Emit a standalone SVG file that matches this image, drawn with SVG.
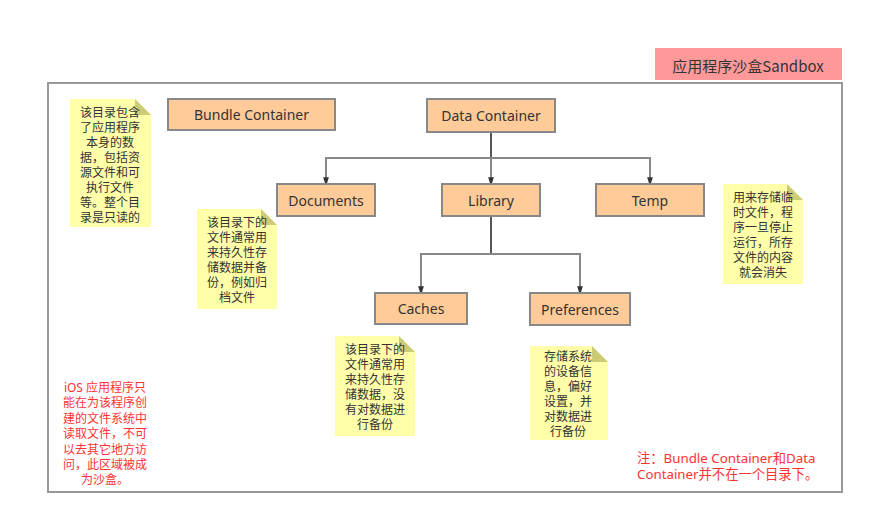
<svg xmlns="http://www.w3.org/2000/svg" width="874" height="524" viewBox="0 0 874 524">
<defs>
<marker id="arr" markerWidth="9" markerHeight="14" refX="9" refY="4.5" orient="auto" markerUnits="userSpaceOnUse" viewBox="0 0 14 9">
<path d="M0,0 L14,4.5 L0,9 Z" fill="#333"/>
</marker>
<style>
.node rect{fill:#FFCC99;stroke:#888;stroke-width:2}
.node text{font-family:"Noto Sans","Noto Sans CJK SC",sans-serif;font-size:14px;fill:#333;text-anchor:middle;dominant-baseline:central}
.note .body{fill:#FFFFAA}
.note .fold{fill:#CCCC77}
.note text{font-family:"Noto Sans CJK SC",sans-serif;font-size:12px;fill:#333;text-anchor:middle;dominant-baseline:central}
.red{font-family:"Noto Sans","Noto Sans CJK SC",sans-serif;font-size:12px;fill:#FF3333}
.red.big{font-size:13.3px}
.conn{fill:none;stroke:#888;stroke-width:2}
.stem{fill:none;stroke:#555;stroke-width:2}
</style>
</defs>
<rect width="874" height="524" fill="#fff"/>
<rect id="frame" x="48" y="83" width="794" height="409" fill="none" stroke="#999" stroke-width="2"/>
<g id="title">
<rect x="655" y="48" width="187" height="32" fill="#FF9999"/>
<text x="748" y="65" font-family="Noto Sans CJK SC,sans-serif" font-size="15" fill="#333" text-anchor="middle" dominant-baseline="central">应用程序沙盒Sandbox</text>
</g>
<g id="connectors">
<path class="stem" d="M491,133 V158"/>
<path class="conn" d="M491,158 H326 V183" marker-end="url(#arr)"/>
<path class="conn" d="M491,158 V183" marker-end="url(#arr)"/>
<path class="conn" d="M491,158 H650 V183" marker-end="url(#arr)"/>
<path class="stem" d="M491,216 V254"/>
<path class="conn" d="M491,254 H421 V292" marker-end="url(#arr)"/>
<path class="conn" d="M491,254 H580 V292" marker-end="url(#arr)"/>
</g>
<g id="bundle" class="node"><rect x="168" y="99" width="167" height="31"/><text x="251.5" y="114.5">Bundle Container</text></g>
<g id="data" class="node"><rect x="427" y="99" width="128" height="33"/><text x="491" y="115.5">Data Container</text></g>
<g id="documents" class="node"><rect x="277" y="184" width="98" height="32"/><text x="326" y="200">Documents</text></g>
<g id="library" class="node"><rect x="442" y="184" width="98" height="32"/><text x="491" y="200">Library</text></g>
<g id="temp" class="node"><rect x="596" y="184" width="108" height="32"/><text x="650" y="200">Temp</text></g>
<g id="caches" class="node"><rect x="375" y="293" width="92" height="31"/><text x="421" y="308.5">Caches</text></g>
<g id="preferences" class="node"><rect x="530" y="293" width="100" height="32"/><text x="580" y="309">Preferences</text></g>
<g id="note-bundle" class="note">
<path class="body" d="M70,99 H135 L151,115 V227 H70 Z"/>
<path class="fold" d="M135,99 L151,115 H135 Z"/>
<text x="110" y="111.5">该目录包含</text><text x="110" y="126.5">了应用程序</text><text x="110" y="141.5">本身的数</text><text x="110" y="156.5">据，包括资</text><text x="110" y="171.5">源文件和可</text><text x="110" y="186.5">执行文件</text><text x="110" y="201.5">等。整个目</text><text x="110" y="216.5">录是只读的</text>
</g>
<g id="note-documents" class="note">
<path class="body" d="M197,209 H261 L277,225 V309 H197 Z"/>
<path class="fold" d="M261,209 L277,225 H261 Z"/>
<text x="237" y="221.5">该目录下的</text><text x="237" y="236.5">文件通常用</text><text x="237" y="251.5">来持久性存</text><text x="237" y="266.5">储数据并备</text><text x="237" y="281.5">份，例如归</text><text x="237" y="296.5">档文件</text>
</g>
<g id="note-caches" class="note">
<path class="body" d="M335,336 H399 L415,352 V436 H335 Z"/>
<path class="fold" d="M399,336 L415,352 H399 Z"/>
<text x="375" y="348.5">该目录下的</text><text x="375" y="363.5">文件通常用</text><text x="375" y="378.5">来持久性存</text><text x="375" y="393.5">储数据，没</text><text x="375" y="408.5">有对数据进</text><text x="375" y="423.5">行备份</text>
</g>
<g id="note-preferences" class="note">
<path class="body" d="M530,346 H592 L608,362 V440 H530 Z"/>
<path class="fold" d="M592,346 L608,362 H592 Z"/>
<text x="568" y="355.5">存储系统</text><text x="568" y="370.5">的设备信</text><text x="568" y="385.5">息，偏好</text><text x="568" y="400.5">设置，并</text><text x="568" y="415.5">对数据进</text><text x="568" y="430.5">行备份</text>
</g>
<g id="note-temp" class="note">
<path class="body" d="M723,184 H787 L803,200 V284 H723 Z"/>
<path class="fold" d="M787,184 L803,200 H787 Z"/>
<text x="763" y="196.5">用来存储临</text><text x="763" y="211.5">时文件，程</text><text x="763" y="226.5">序一旦停止</text><text x="763" y="241.5">运行，所存</text><text x="763" y="256.5">文件的内容</text><text x="763" y="271.5">就会消失</text>
</g>
<g id="sandbox-note">
<text class="red" text-anchor="middle" dominant-baseline="central"><tspan x="105" y="386.5">iOS 应用程序只</tspan><tspan x="105" y="402">能在为该程序创</tspan><tspan x="105" y="417.5">建的文件系统中</tspan><tspan x="105" y="433">读取文件，不可</tspan><tspan x="105" y="448.5">以去其它地方访</tspan><tspan x="105" y="464">问，此区域被成</tspan><tspan x="105" y="479">为沙盒。</tspan></text>
</g>
<g id="container-note">
<text class="red big" dominant-baseline="central"><tspan x="637" y="458">注：Bundle Container和Data</tspan><tspan x="637" y="474">Container并不在一个目录下。</tspan></text>
</g>
</svg>
